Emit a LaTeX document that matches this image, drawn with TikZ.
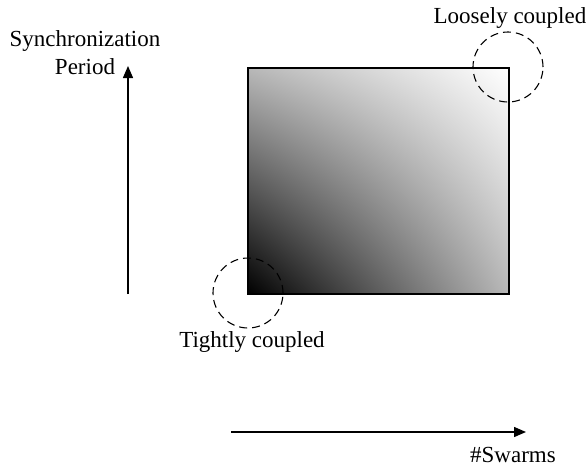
\documentclass[tikz,border=0pt]{standalone}
\usepackage{fontspec}
\setmainfont{Liberation Serif}
\usepackage{tikz}
\usetikzlibrary{arrows.meta,positioning,calc,shadings}
\definecolor{tinta}{HTML}{000000}
\definecolor{medio}{HTML}{B8B8B8}

\begin{document}
\begin{tikzpicture}[x=1pt,y=-1pt,font=\fontsize{23}{28}\selectfont,
  eje/.style={-{Triangle[length=12pt,width=10pt]},line width=1.4pt,tinta},
  zona/.style={draw=tinta,dashed,dash pattern=on 8pt off 5pt,line width=1.1pt},
  lbl/.style={text=tinta,inner sep=0pt}]
\useasboundingbox (0,0) rectangle (587,466);
% area
\shade[lower left=black,upper right=white,upper left=medio,lower right=medio]
  (248,68) rectangle (509,294);
\draw[line width=1.6pt,tinta] (248,68) rectangle (509,294);
% axes
\coordinate (y0) at (128,294);
\coordinate (y1) at (128,66);
\coordinate (x0) at (231,432);
\coordinate (x1) at (526,432);
\draw[eje] (y0) -- (y1);
\draw[eje] (x0) -- (x1);
\node[lbl,align=center] (sync) at (85,53) {Synchronization\\Period};
\node[lbl,anchor=base] (swarms) at (513,462) {\#Swarms};
% regions
\node[zona,circle,minimum size=70pt] (tight) at (248,293) {};
\node[zona,circle,minimum size=70pt] (loose) at (508,67) {};
\node[lbl,anchor=base] (ltight) at (252,347) {Tightly coupled};
\node[lbl,anchor=base] (lloose) at (510,23) {Loosely coupled};
\end{tikzpicture}
\end{document}
